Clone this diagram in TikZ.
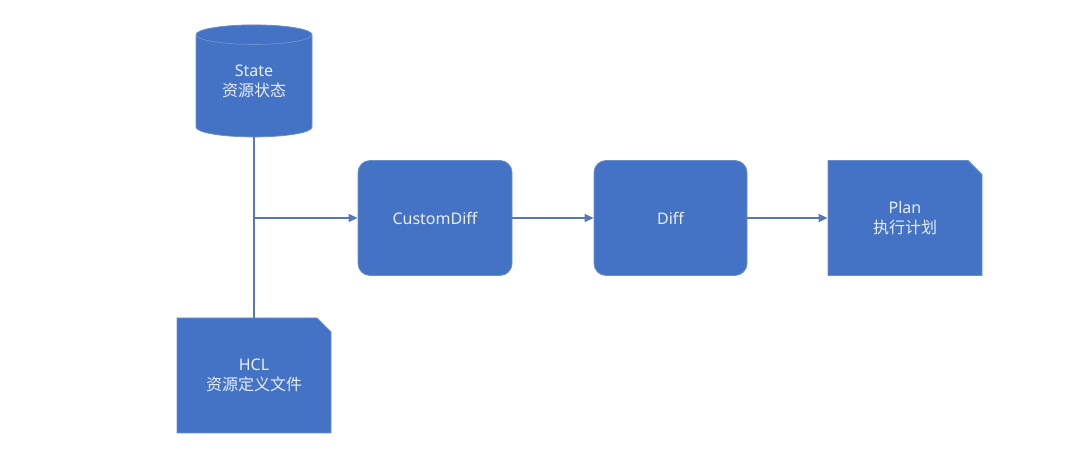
\documentclass[tikz,border=0pt]{standalone}
\usepackage{fontspec}
\setmainfont{Noto Sans}
\newfontfamily\cjk{Noto Sans CJK SC}
\usetikzlibrary{shapes.geometric, shapes.misc, arrows.meta}
\definecolor{boxblue}{HTML}{4472C4}
\definecolor{edgeblue}{HTML}{6A8FD0}
\definecolor{lineblue}{HTML}{5878B4}
\definecolor{textwhite}{HTML}{E9EEF8}
\begin{document}
\begin{tikzpicture}[
    x=1pt,y=1pt,
    caption/.style={text=textwhite, font=\fontsize{16}{20}\selectfont, align=center, inner sep=0pt},
    box/.style={caption, fill=boxblue, draw=edgeblue, line width=0.8pt,
      minimum width=154pt, minimum height=115pt},
    block/.style={box, rounded corners=12pt},
    doc/.style={box, chamfered rectangle, chamfered rectangle corners=north east,
      chamfered rectangle sep=7pt},
    store/.style={box, cylinder, shape border rotate=90, aspect=0.3,
      minimum width=116pt, minimum height=112pt},
    line/.style={lineblue, line width=1.4pt},
    arrow/.style={line, -{Triangle[length=9pt,width=8pt]}}
    ]
    \useasboundingbox (0,0) rectangle (1080,454);
    \node[store] (state) at (254,368) {\phantom{\rule{65pt}{36pt}}};
    \node[caption] (statetext) at (254,373) {State\\{\cjk 资源状态}};
    \node[doc] (hcl) at (254,78.5) {HCL\\{\cjk 资源定义文件}};
    \node[block] (customdiff) at (435,236) {CustomDiff};
    \node[block, minimum width=153pt] (diff) at (670.5,236) {Diff};
    \node[doc] (plan) at (905,236) {Plan\\{\cjk 执行计划}};
    \coordinate (join) at (254,236);
    \draw[line] (state.south) -- (hcl.north);
    \draw[arrow] (join) -- (customdiff.west);
    \draw[arrow] (customdiff.east) -- (diff.west);
    \draw[arrow] (diff.east) -- (plan.west);
  \end{tikzpicture}
\end{document}
